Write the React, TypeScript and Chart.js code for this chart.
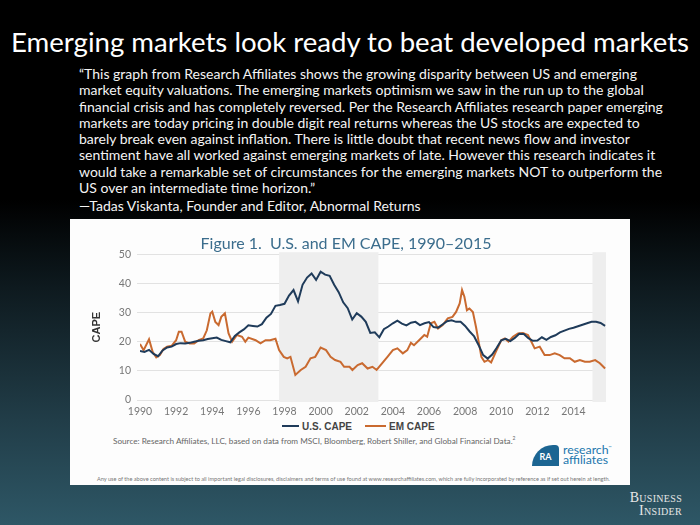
import React, { useEffect, useRef } from "react";
import { Chart, registerables } from "chart.js";

Chart.register(...registerables);

// ---- data ----
const usYears = [
  1990, 1990.25, 1990.5, 1990.75, 1991, 1991.25, 1991.5, 1991.75,
  1992, 1992.25, 1992.5, 1992.75, 1993, 1993.25, 1993.5, 1993.75,
  1994, 1994.25, 1994.5, 1994.75, 1995, 1995.25, 1995.5, 1995.75,
  1996, 1996.25, 1996.5, 1996.75, 1997, 1997.25, 1997.5, 1997.75,
  1998, 1998.25, 1998.5, 1998.75, 1999, 1999.25, 1999.5, 1999.75,
  2000, 2000.25, 2000.5, 2000.75, 2001, 2001.25, 2001.5, 2001.75,
  2002, 2002.25, 2002.5, 2002.75, 2003, 2003.25, 2003.5, 2003.75,
  2004, 2004.25, 2004.5, 2004.75, 2005, 2005.25, 2005.5, 2005.75,
  2006, 2006.25, 2006.5, 2006.75, 2007, 2007.25, 2007.5, 2007.75,
  2008, 2008.25, 2008.5, 2008.75, 2009, 2009.25, 2009.5, 2009.75,
  2010, 2010.25, 2010.5, 2010.75, 2011, 2011.25, 2011.5, 2011.75,
  2012, 2012.25, 2012.5, 2012.75, 2013, 2013.25, 2013.5, 2013.75,
  2014, 2014.25, 2014.5, 2014.75, 2015, 2015.25, 2015.5, 2015.75,
];
const usCape = [
  16.8, 16.5, 17.2, 15.8, 15.0, 17.0, 18.0, 18.3,
  19.2, 19.5, 19.4, 19.6, 20.0, 20.3, 20.5, 20.9,
  21.2, 21.4, 20.6, 20.2, 19.8, 22.0, 23.2, 24.2,
  25.6, 25.4, 25.2, 26.0, 28.2, 29.5, 32.3, 32.6,
  33.0, 35.8, 37.7, 33.8, 39.5, 42.0, 43.4, 41.2,
  44.0, 43.0, 42.6, 39.5, 37.0, 33.5, 31.5, 27.6,
  29.8, 28.6, 26.8, 23.0, 23.2, 21.5, 24.3, 25.2,
  26.3, 27.2, 26.2, 25.6, 26.5, 26.8, 25.7, 26.3,
  26.7, 25.0, 24.8, 25.9, 27.0, 27.3, 26.8, 26.8,
  25.4, 23.5, 21.8, 18.8, 15.4, 14.2, 15.6, 17.9,
  20.5, 21.0, 20.2, 21.3, 22.7, 22.6, 21.2, 20.3,
  20.4, 21.5, 20.6, 21.6, 22.2, 23.2, 23.8, 24.4,
  24.8, 25.3, 25.8, 26.3, 26.8, 26.8, 26.4, 25.4,
];

const emYears = [
  1990, 1990.2, 1990.5, 1990.7, 1990.9, 1991.1, 1991.3, 1991.5, 1991.75,
  1992, 1992.15, 1992.3, 1992.5, 1992.75, 1993, 1993.25, 1993.5, 1993.7,
  1993.9, 1994, 1994.17, 1994.35, 1994.5, 1994.7, 1994.9, 1995.1, 1995.37,
  1995.65, 1995.83, 1996, 1996.4, 1996.67, 1996.95, 1997.2, 1997.5, 1997.7,
  1997.96, 1998.15, 1998.33, 1998.6, 1998.9, 1999.17, 1999.44, 1999.7,
  2000, 2000.3, 2000.55, 2000.8, 2001.1, 2001.3, 2001.6, 2001.76, 2002.05,
  2002.3, 2002.6, 2002.87, 2003.1, 2003.4, 2003.7, 2004, 2004.25, 2004.55,
  2004.8, 2005, 2005.17, 2005.45, 2005.74, 2005.9, 2006.1, 2006.3, 2006.5,
  2006.76, 2007.04, 2007.3, 2007.5, 2007.7, 2007.83, 2007.96, 2008.1,
  2008.24, 2008.43, 2008.6, 2008.8, 2008.9, 2009.07, 2009.26, 2009.44,
  2009.7, 2010, 2010.2, 2010.4, 2010.65, 2010.93, 2011.2, 2011.48, 2011.67,
  2011.85, 2012.13, 2012.4, 2012.68, 2012.96, 2013.24, 2013.5, 2013.8,
  2014.07, 2014.35, 2014.63, 2014.9, 2015.2, 2015.46, 2015.75,
];
const emCape = [
  19.2, 17.1, 20.8, 16.5, 14.6, 15.4, 17.5, 18.3, 18.6,
  20.5, 23.4, 23.4, 20.0, 19.4, 19.4, 20.5, 21.1, 23.9,
  29.7, 30.3, 26.8, 25.7, 28.5, 29.7, 22.9, 20.0, 22.3,
  21.7, 20.0, 21.4, 20.5, 19.4, 20.5, 20.5, 21.0, 17.1,
  14.8, 14.3, 14.8, 8.6, 10.3, 11.4, 14.3, 14.8,
  18.0, 17.1, 14.8, 13.7, 13.1, 11.4, 11.4, 10.3, 12.0,
  12.6, 10.8, 11.4, 10.3, 12.6, 14.8, 17.1, 17.7, 16.0,
  17.1, 19.6, 18.8, 20.5, 22.3, 21.7, 26.3, 26.8, 24.5,
  25.7, 28.0, 28.5, 30.2, 33.1, 37.7, 35.4, 30.8,
  31.4, 30.2, 25.1, 18.3, 14.8, 13.1, 13.7, 12.9,
  16.5, 20.5, 21.1, 20.0, 21.7, 22.8, 23.0, 22.3, 20.0,
  17.7, 18.3, 15.4, 15.4, 16.0, 15.4, 14.3, 14.3,
  13.1, 13.7, 13.1, 13.1, 13.7, 12.6, 10.8,
];

const xTickYears = [1990, 1992, 1994, 1996, 1998, 2000, 2002, 2004, 2006, 2008, 2010, 2012, 2014];
const yTickValues = [0, 5, 10, 15, 20, 25, 30, 35, 40, 45, 50];
const shadedStarts = [1997.7, 2015.05];
const shadedEnds = [2003.2, 2015.8];

const seriesNames = ["U.S. CAPE", "EM CAPE"];
const seriesColors = ["#1f3b5a", "#c96a30"];

const quoteLines = [
  "\u201CThis graph from Research Affiliates shows the growing disparity between US and emerging",
  "market equity valuations. The emerging markets optimism we saw in the run up to the global",
  "financial crisis and has completely reversed. Per the Research Affiliates research paper emerging",
  "markets are today pricing in double digit real returns whereas the US stocks are expected to",
  "barely break even against inflation. There is little doubt that recent news flow and investor",
  "sentiment have all worked against emerging markets of late. However this research indicates it",
  "would take a remarkable set of circumstances for the emerging markets NOT to outperform the",
  "US over an intermediate time horizon.\u201D",
];

const shadePlugin = {
  id: "shadePeriods",
  beforeDatasetsDraw(chart: any) {
    const { ctx, chartArea, scales } = chart;
    ctx.save();
    ctx.fillStyle = "#eeeeee";
    shadedStarts.forEach((s, i) => {
      const x0 = Math.max(scales.x.getPixelForValue(s), chartArea.left);
      const x1 = Math.min(scales.x.getPixelForValue(shadedEnds[i]), chartArea.right);
      const yTop = scales.y.getPixelForValue(50);
      const yBot = scales.y.getPixelForValue(0) + 2;
      ctx.fillRect(x0, yTop - 2, x1 - x0, yBot - yTop + 2);
    });
    ctx.restore();
  },
};

function CapeChart() {
  const ref = useRef<HTMLCanvasElement | null>(null);
  useEffect(() => {
    if (!ref.current) return;
    const chart = new Chart(ref.current, {
      type: "line",
      data: {
        datasets: [
          {
            label: seriesNames[0],
            data: usYears.map((y, i) => ({ x: y, y: usCape[i] })),
            borderColor: seriesColors[0],
            backgroundColor: seriesColors[0],
            borderWidth: 2,
            pointRadius: 0,
            tension: 0,
          },
          {
            label: seriesNames[1],
            data: emYears.map((y, i) => ({ x: y, y: emCape[i] })),
            borderColor: seriesColors[1],
            backgroundColor: seriesColors[1],
            borderWidth: 2,
            pointRadius: 0,
            tension: 0,
          },
        ],
      },
      options: {
        animation: false,
        responsive: false,
        devicePixelRatio: 1,
        events: [],
        layout: { padding: { left: 16, right: 24, top: 0, bottom: 0 } },
        plugins: {
          title: {
            display: true,
            text: "Figure 1.  U.S. and EM CAPE, 1990\u20132015",
            color: "#3b6d8d",
            font: { family: "Lato", size: 16, weight: "normal" },
            padding: { top: 15.5, bottom: 0.5 },
          },
          legend: { display: false },
          tooltip: { enabled: false },
        },
        scales: {
          x: {
            type: "linear",
            min: 1990,
            max: 2015.8,
            afterBuildTicks: (s: any) => {
              s.ticks = xTickYears.map((v) => ({ value: v }));
            },
            afterFit: (s: any) => {
              s.height = 19;
            },
            grid: { display: false, drawTicks: false },
            border: { display: false },
            ticks: {
              color: "#777777",
              font: { family: "Lato", size: 10.5 },
              padding: 5,
              maxRotation: 0,
              autoSkip: false,
              callback: (v: any) => String(v),
            },
          },
          y: {
            min: 0,
            max: 50,
            afterBuildTicks: (s: any) => {
              s.ticks = yTickValues.map((v) => ({ value: v }));
            },
            afterFit: (s: any) => {
              s.width = 54;
            },
            grid: { color: "#e2e2e2", tickLength: 3, drawTicks: true },
            border: { display: false },
            ticks: {
              color: "#777777",
              font: { family: "Lato", size: 10.5 },
              padding: 6,
            },
            title: {
              display: true,
              text: "CAPE",
              color: "#333333",
              font: { family: "Liberation Sans", size: 11, weight: "bold" },
              padding: { top: 4, bottom: 4 },
            },
          },
        },
      },
      plugins: [shadePlugin],
    });
    return () => chart.destroy();
  }, []);
  return <canvas ref={ref} width={560} height={200} style={{ position: "absolute", left: 0, top: 0, width: 560, height: 200 }} />;
}

function LegendItem({ name, color, lineWidth, gapAfter }: { name: string; color: string; lineWidth: number; gapAfter: number }) {
  return (
    <div style={{ display: "flex", alignItems: "center", marginRight: gapAfter }}>
      <div style={{ width: lineWidth, height: 2.5, background: color, marginRight: 3 }} />
      <div>{name}</div>
    </div>
  );
}

export default function App() {
  return (
    <div
      style={{
        position: "absolute",
        left: 0,
        top: 0,
        width: 700,
        height: 525,
        overflow: "hidden",
        background:
          "linear-gradient(180deg, #000000 0%, #000000 38%, #0e1a1f 55%, #213d48 80%, #2e5766 100%)",
        fontFamily: "Lato, sans-serif",
      }}
    >
      <div
        style={{
          position: "absolute",
          left: 0,
          top: 26,
          width: 700,
          textAlign: "center",
          color: "#ffffff",
          fontSize: 27.6,
          lineHeight: "32px",
          whiteSpace: "nowrap",
        }}
      >
        Emerging markets look ready to beat developed markets
      </div>
      <div
        style={{
          position: "absolute",
          left: 79,
          top: 66,
          color: "#f4f4f4",
          fontSize: 14,
          lineHeight: "16.3px",
          whiteSpace: "nowrap",
        }}
      >
        {quoteLines.map((l, i) => (
          <div key={i}>{l}</div>
        ))}
        <div style={{ marginTop: 1.7 }}>{"\u2014Tadas Viskanta, Founder and Editor, Abnormal Returns"}</div>
      </div>
      <div
        style={{
          position: "absolute",
          left: 70,
          top: 219,
          width: 560,
          height: 266,
          background: "#fdfdfd",
        }}
      >
        <CapeChart />
        <div
          style={{
            position: "absolute",
            left: 212,
            top: 200,
            height: 14,
            display: "flex",
            alignItems: "center",
            fontFamily: "'Liberation Sans', Arial, sans-serif",
            fontWeight: "bold",
            fontSize: 10,
            color: "#444444",
            whiteSpace: "nowrap",
          }}
        >
          <LegendItem name={seriesNames[0]} color={seriesColors[0]} lineWidth={17} gapAfter={13} />
          <LegendItem name={seriesNames[1]} color={seriesColors[1]} lineWidth={21} gapAfter={0} />
        </div>
        <div
          style={{
            position: "absolute",
            left: 43,
            top: 216,
            fontSize: 8.2,
            color: "#666666",
            whiteSpace: "nowrap",
          }}
        >
          Source: Research Affiliates, LLC, based on data from MSCI, Bloomberg, Robert Shiller, and Global Financial Data.
          <sup style={{ fontSize: 5 }}>2</sup>
        </div>
        <div
          style={{
            position: "absolute",
            left: 462,
            top: 226,
            width: 27,
            height: 21,
            background: "#1c6592",
            borderTopLeftRadius: 22,
            borderTopRightRadius: 4,
            color: "#ffffff",
            fontSize: 9,
            fontWeight: "bold",
            textAlign: "center",
            lineHeight: "24px",
          }}
        >
          RA
        </div>
        <div
          style={{
            position: "absolute",
            left: 493,
            top: 224,
            color: "#2277ad",
            fontSize: 12.3,
            lineHeight: "10px",
          }}
        >
          <div>research<sup style={{ fontSize: 4 }}>™</sup></div>
          <div>affiliates</div>
        </div>
        <div
          style={{
            position: "absolute",
            left: 27,
            top: 256,
            fontSize: 5.6,
            color: "#777777",
            whiteSpace: "nowrap",
          }}
        >
          Any use of the above content is subject to all important legal disclosures, disclaimers and terms of use found at www.researchaffiliates.com, which are fully incorporated by reference as if set out herein at length.
        </div>
      </div>
      <div
        style={{
          position: "absolute",
          right: 18,
          top: 491,
          color: "#e6e6e6",
          fontFamily: "'Liberation Serif', serif",
          fontVariant: "small-caps",
          fontSize: 14,
          lineHeight: "13px",
          textAlign: "right",
          letterSpacing: 0.3,
        }}
      >
        <div>Business</div>
        <div>Insider</div>
      </div>
    </div>
  );
}
